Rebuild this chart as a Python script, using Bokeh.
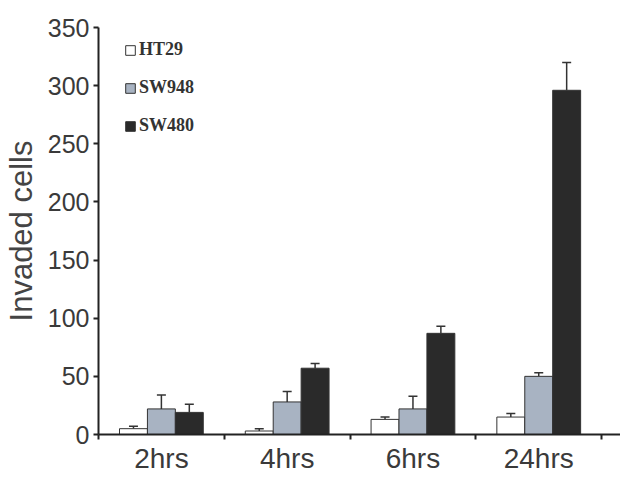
from bokeh.plotting import figure
from bokeh.models import ColumnDataSource, FixedTicker, Legend, LegendItem, Whisker, TeeHead, Range1d
from bokeh.embed import file_html
from bokeh.resources import INLINE

categories = ["2hrs", "4hrs", "6hrs", "24hrs"]
series = ["HT29", "SW948", "SW480"]
ht29 = [5, 3, 13, 15]
ht29_err = [2, 2, 2, 3]
sw948 = [22, 28, 22, 50]
sw948_err = [12, 9, 11, 3]
sw480 = [19, 57, 87, 296]
sw480_err = [7, 4, 6, 24]
colors = ["#ffffff", "#a8b3c2", "#2a2a2a"]

p = figure(width=620, height=476, output_backend="svg", toolbar_location=None,
           x_range=Range1d(0, 4.15), y_range=Range1d(0, 350),
           min_border_left=97, min_border_top=27, min_border_bottom=42, min_border_right=0)
p.xgrid.visible = False
p.ygrid.visible = False
p.outline_line_color = None

bw = 0.222
offsets = [-bw, 0.0, bw]
renderers = []
for vals, errs, col, off in zip([ht29, sw948, sw480], [ht29_err, sw948_err, sw480_err], colors, offsets):
    xs = [i + 0.5 + off for i in range(len(categories))]
    src = ColumnDataSource(dict(x=xs, top=vals, up=[v + e for v, e in zip(vals, errs)]))
    r = p.vbar(x="x", top="top", width=bw, bottom=0, source=src, fill_color=col,
               line_color="#333333", line_width=1)
    renderers.append(r)
    w = Whisker(source=src, base="x", lower="top", upper="up", dimension="height",
                line_color="#333333", line_width=1.5,
                upper_head=TeeHead(size=9, line_color="#333333", line_width=1.5), lower_head=None)
    p.add_layout(w)

legend = Legend(items=[LegendItem(label=s, renderers=[r]) for s, r in zip(series, renderers)],
                location=(26, 298), glyph_width=12, glyph_height=12, label_height=18,
                spacing=17, padding=0, margin=0, border_line_color=None,
                background_fill_alpha=0, label_text_font="Liberation Serif",
                label_text_font_style="bold", label_text_font_size="18px",
                label_text_color="#333333", label_standoff=3)
p.add_layout(legend)

# axes
p.yaxis.ticker = FixedTicker(ticks=list(range(0, 351, 50)))
p.yaxis.axis_label = "Invaded cells"
p.yaxis.axis_label_text_font = "Liberation Sans"
p.yaxis.axis_label_text_font_style = "normal"
p.yaxis.axis_label_text_font_size = "31px"
p.yaxis.axis_label_text_color = "#444444"
p.yaxis.axis_label_standoff = 6
p.yaxis.major_label_text_font = "Liberation Sans"
p.yaxis.major_label_text_font_size = "25px"
p.yaxis.major_label_text_color = "#3a3a3a"
p.yaxis.major_tick_out = 5
p.yaxis.major_tick_in = 0
p.yaxis.minor_tick_out = 0
p.yaxis.minor_tick_in = 0
p.yaxis.axis_line_width = 2
p.yaxis.axis_line_color = "#222222"
p.yaxis.major_tick_line_color = "#222222"
p.yaxis.major_tick_line_width = 2
p.yaxis.major_label_standoff = 4

centers = [i + 0.5 for i in range(len(categories))]
p.xaxis.ticker = FixedTicker(ticks=centers, minor_ticks=list(range(0, len(categories) + 1)))
p.xaxis.major_label_overrides = {c: lab for c, lab in zip(centers, categories)}
p.xaxis.major_label_text_font = "Liberation Sans"
p.xaxis.major_label_text_font_size = "28px"
p.xaxis.major_label_text_color = "#3a3a3a"
p.xaxis.major_tick_out = 0
p.xaxis.major_tick_in = 0
p.xaxis.minor_tick_out = 5
p.xaxis.minor_tick_in = 0
p.xaxis.minor_tick_line_width = 2
p.xaxis.minor_tick_line_color = "#222222"
p.xaxis.axis_line_width = 2
p.xaxis.axis_line_color = "#222222"
p.xaxis.major_label_standoff = 3

open("out.html", "w").write(file_html(p, INLINE))
